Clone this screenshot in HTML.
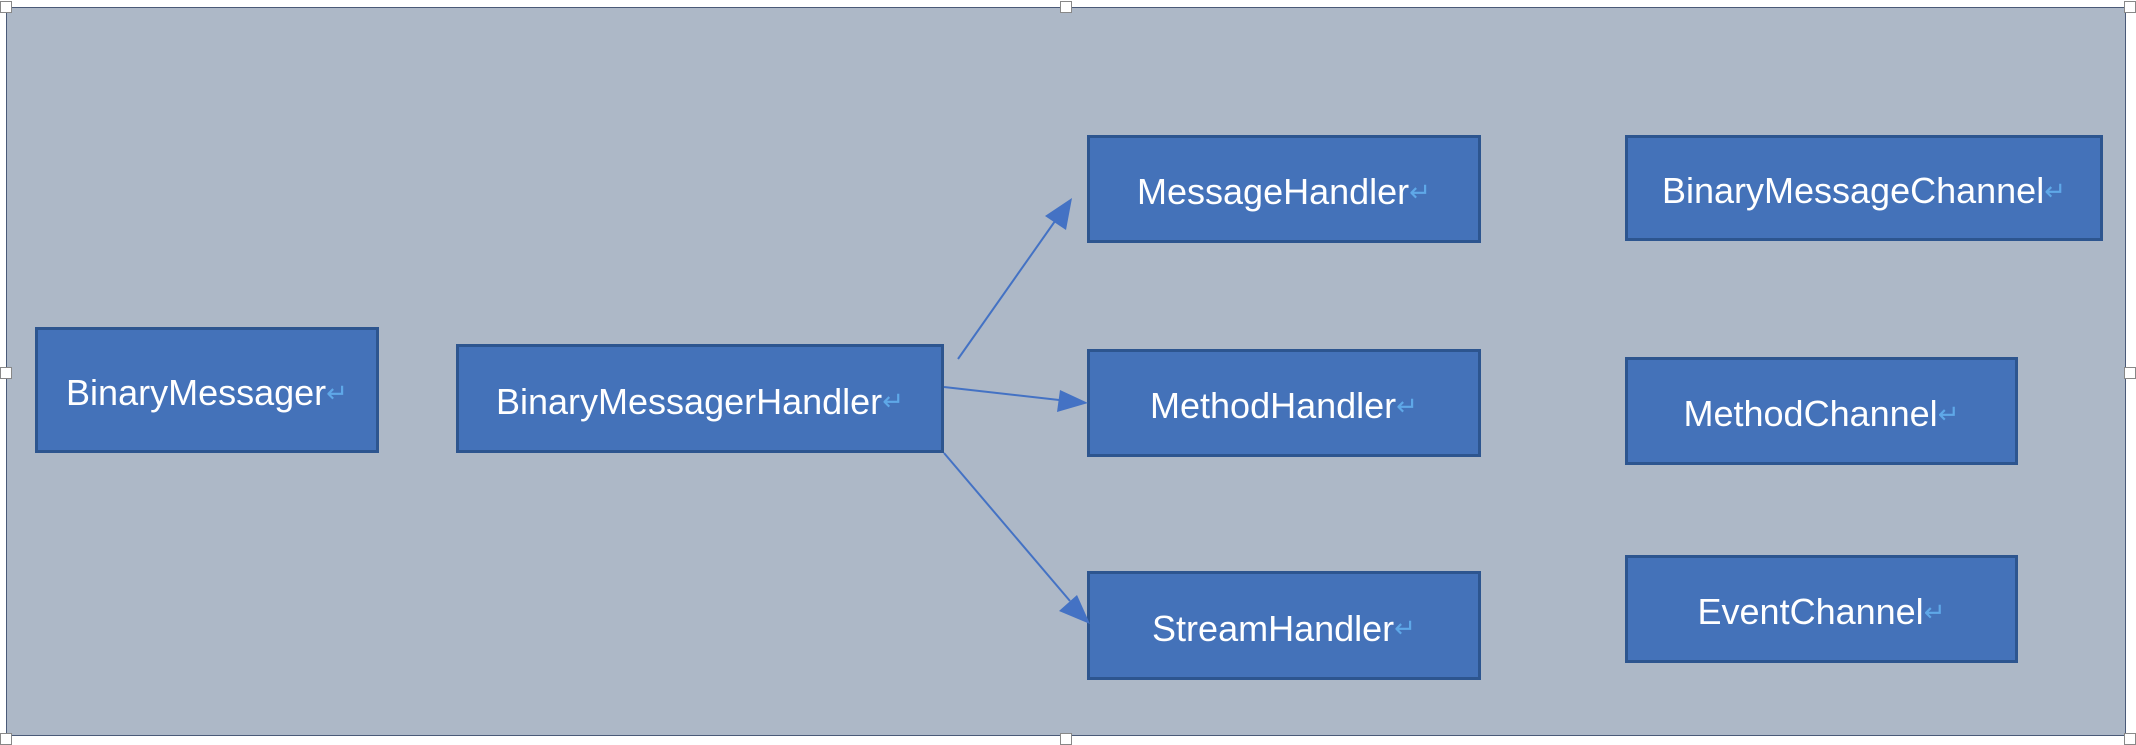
<!DOCTYPE html>
<html><head><meta charset="utf-8"><style>
body{margin:0;width:2136px;height:740px;background:#fff;position:relative;overflow:hidden;font-family:"Liberation Sans",sans-serif}
.frame{position:absolute;left:6px;top:7px;width:2120px;height:729px;background:#adb8c7;border:1px solid #4a5a78;box-sizing:border-box}
.b{position:absolute;background:#4472b9;border:3px solid #2d558f;box-sizing:border-box;color:#fff;font-size:36px;display:flex;align-items:center;justify-content:center;padding-top:6px}
.b span{color:#5fa8e8;font-size:26px}
.h{position:absolute;width:12px;height:12px;background:#fff;border:1px solid #888;box-sizing:border-box}
</style></head><body>
<div class="frame"></div>
<div class="h" style="left:1060px;top:1px"></div>
<div class="h" style="left:1060px;top:733px"></div>
<div class="h" style="left:0px;top:367px"></div>
<div class="h" style="left:2124px;top:367px"></div>
<div class="h" style="left:0px;top:1px"></div>
<div class="h" style="left:2124px;top:1px"></div>
<div class="h" style="left:0px;top:733px"></div>
<div class="h" style="left:2124px;top:733px"></div>
<div class="b" style="left:35px;top:327px;width:344px;height:126px">BinaryMessager<span>↵</span></div>
<div class="b" style="left:456px;top:344px;width:488px;height:109px">BinaryMessagerHandler<span>↵</span></div>
<div class="b" style="left:1087px;top:135px;width:394px;height:108px">MessageHandler<span>↵</span></div>
<div class="b" style="left:1087px;top:349px;width:394px;height:108px">MethodHandler<span>↵</span></div>
<div class="b" style="left:1087px;top:571px;width:394px;height:109px">StreamHandler<span>↵</span></div>
<div class="b" style="left:1625px;top:135px;width:478px;height:106px">BinaryMessageChannel<span>↵</span></div>
<div class="b" style="left:1625px;top:357px;width:393px;height:108px">MethodChannel<span>↵</span></div>
<div class="b" style="left:1625px;top:555px;width:393px;height:108px">EventChannel<span>↵</span></div>
<svg width="2136" height="740" style="position:absolute;left:0;top:0">
<defs><marker id="a" markerWidth="10" markerHeight="10" refX="9" refY="5" orient="auto" markerUnits="userSpaceOnUse" viewBox="0 0 10 10" style="overflow:visible"><path d="M0,0 L10,5 L0,10z" fill="#4472c4" transform="scale(3)"/></marker></defs>
<g stroke="#4472c4" stroke-width="2" fill="none">
<line x1="958" y1="359" x2="1060" y2="214"/>
<line x1="944" y1="387" x2="1068" y2="401"/>
<line x1="944" y1="453" x2="1070" y2="601"/>
</g>
<g fill="#4472c4">
<polygon points="1072,198 1066,230 1045,216"/>
<polygon points="1088,403 1057,412 1060,390"/>
<polygon points="1090,624 1059,611 1077,595"/>
</g>
</svg>
</body></html>
